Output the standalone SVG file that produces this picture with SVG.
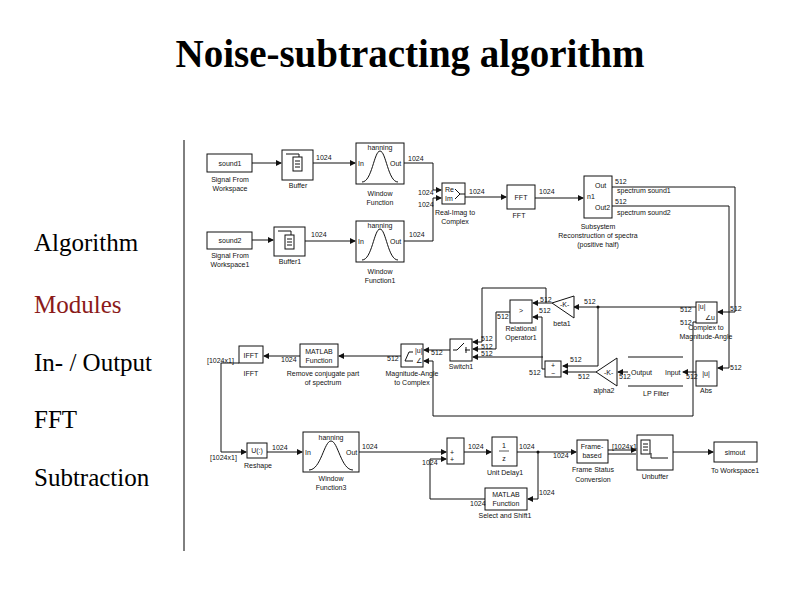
<svg xmlns="http://www.w3.org/2000/svg" width="794" height="595" viewBox="0 0 794 595">
<style>
.t{font-family:"Liberation Serif",serif}
.s{font-family:"Liberation Sans",Arial,sans-serif;font-size:7px;fill:#111}
.m{text-anchor:middle}
.b{fill:#fff;stroke:#111;stroke-width:1}
.w{fill:none;stroke:#111;stroke-width:1}
.c path,.c polyline,.c line{fill:none;stroke:#111;stroke-width:1}
</style>
<defs>
<marker id="a" markerWidth="6" markerHeight="6" refX="5" refY="3" orient="auto" markerUnits="userSpaceOnUse"><path d="M0,0 L6,3 L0,6 z" fill="#111"/></marker>
</defs>
<rect width="794" height="595" fill="#fff"/>
<text class="t" x="410" y="67" font-size="39" font-weight="bold" text-anchor="middle">Noise-subtracting algorithm</text>
<line x1="184" y1="140" x2="184" y2="551" stroke="#000" stroke-width="1"/>
<g class="t" font-size="25">
<text x="34" y="251">Algorithm</text>
<text x="34" y="313" fill="#8b1a1a">Modules</text>
<text x="34" y="371">In- / Output</text>
<text x="34" y="428">FFT</text>
<text x="34" y="486">Subtraction</text>
</g>

<g class="c">
<polyline points="252,163 281,163" marker-end="url(#a)"/>
<polyline points="313,163 355,163" marker-end="url(#a)"/>
<polyline points="404,163 433,163 433,190 441,190" marker-end="url(#a)"/>
<polyline points="252,240 273,240" marker-end="url(#a)"/>
<polyline points="305,241 355,241" marker-end="url(#a)"/>
<polyline points="404,241 433,241 433,198 441,198" marker-end="url(#a)"/>
<polyline points="465,197 506,197" marker-end="url(#a)"/>
<polyline points="535,198 583,198" marker-end="url(#a)"/>
<polyline points="612,187 735,187 735,312 718,312" marker-end="url(#a)"/>
<polyline points="612,206 729,206 729,368 718,368" marker-end="url(#a)"/>
<polyline points="696,307 574,307" marker-end="url(#a)"/>
<polyline points="598,307 598,366 563,366" marker-end="url(#a)"/>
<polyline points="552,303 533,303" marker-end="url(#a)"/>
<polyline points="546,303 546,288 482,288 482,342 473,342" marker-end="url(#a)"/>
<polyline points="510,312 496,312 496,349 473,349" marker-end="url(#a)"/>
<polyline points="545,369 542,369 542,317 533,317" marker-end="url(#a)"/>
<polyline points="543,357 473,357" marker-end="url(#a)"/>
<polyline points="596,372 563,372" marker-end="url(#a)"/>
<polyline points="628,372 618,372" marker-end="url(#a)"/>
<polyline points="696,372 683,372" marker-end="url(#a)"/>
<polyline points="696,322 693,322 693,416 433,416 433,361 424,361" marker-end="url(#a)"/>
<polyline points="450,350 424,350" marker-end="url(#a)"/>
<polyline points="401,356 339,356" marker-end="url(#a)"/>
<polyline points="300,356 264,356" marker-end="url(#a)"/>
<polyline points="239,363 221,363 221,452 246,452" marker-end="url(#a)"/>
<polyline points="267,452 302,452" marker-end="url(#a)"/>
<polyline points="359,452 446,452" marker-end="url(#a)"/>
<polyline points="485,499 430,499 430,459 446,459" marker-end="url(#a)"/>
<polyline points="464,452 491,452" marker-end="url(#a)"/>
<polyline points="517,452 576,452" marker-end="url(#a)"/>
<polyline points="538,452 538,499 528,499" marker-end="url(#a)"/>
<polyline points="608,450 636,450" marker-end="url(#a)"/>
<polyline points="608,454 636,454"/>
<polyline points="673,452 713,452" marker-end="url(#a)"/>
<circle cx="538" cy="452" r="1.5" fill="#111"/>
<circle cx="598" cy="307" r="1.5" fill="#111"/>
</g>

<g id="sound1"><rect class="b" x="207" y="154" width="45" height="18"/><text class="s m" x="230" y="166">sound1</text><text class="s m" x="230" y="182">Signal From</text><text class="s m" x="230" y="191">Workspace</text></g>
<g id="buffer"><rect class="b" x="282" y="150" width="31" height="30"/><rect class="w" x="293" y="157" width="9" height="14"/><path class="w" d="M286,154 H299 V157 M295,161 H300 M295,164 H300 M295,167 H300"/><text class="s m" x="298" y="188">Buffer</text><text class="s" x="316" y="160">1024</text></g>
<g id="win"><rect class="b" x="356" y="143" width="48" height="41"/><path class="w" d="M362,182 C372,182 374,151 380,151 C386,151 388,182 398,182"/><text class="s m" x="380" y="150">hanning</text><text class="s" x="358" y="166">In</text><text class="s" x="390" y="166">Out</text><text class="s m" x="380" y="196">Window</text><text class="s m" x="380" y="205">Function</text><text class="s" x="408" y="161">1024</text></g>
<g id="sound2"><rect class="b" x="207" y="232" width="45" height="17"/><text class="s m" x="230" y="243">sound2</text><text class="s m" x="230" y="258">Signal From</text><text class="s m" x="230" y="267">Workspace1</text></g>
<g id="buffer1"><rect class="b" x="274" y="227" width="31" height="29"/><rect class="w" x="285" y="235" width="9" height="14"/><path class="w" d="M278,231 H291 V235 M287,239 H292 M287,242 H292 M287,245 H292"/><text class="s m" x="290" y="264">Buffer1</text><text class="s" x="311" y="237">1024</text></g>
<g id="win1"><rect class="b" x="356" y="221" width="48" height="41"/><path class="w" d="M362,260 C372,260 374,229 380,229 C386,229 388,260 398,260"/><text class="s m" x="380" y="228">hanning</text><text class="s" x="358" y="244">In</text><text class="s" x="390" y="244">Out</text><text class="s m" x="380" y="274">Window</text><text class="s m" x="380" y="283">Function1</text><text class="s" x="409" y="237">1024</text></g>
<g id="reim"><rect class="b" x="442" y="183" width="23" height="21"/><text class="s" x="445" y="192">Re</text><text class="s" x="445" y="201">Im</text><path class="w" d="M455,189 L460,194 L455,199 M460,194 H465"/><text class="s" x="418" y="195">1024</text><text class="s" x="418" y="207">1024</text><text class="s m" x="455" y="215">Real-Imag to</text><text class="s m" x="455" y="224">Complex</text><text class="s" x="469" y="194">1024</text></g>
<g id="fft"><rect class="b" x="507" y="185" width="28" height="24"/><text class="s m" x="521" y="200">FFT</text><text class="s m" x="519" y="218">FFT</text><text class="s" x="539" y="194">1024</text></g>
<g id="subsys"><rect class="b" x="584" y="176" width="28" height="42"/><text class="s" x="595" y="188">Out</text><text class="s" x="587" y="199">n1</text><text class="s" x="595" y="210">Out2</text><text class="s m" x="598" y="229">Subsystem</text><text class="s m" x="598" y="238">Reconstruction of spectra</text><text class="s m" x="598" y="247">(positive half)</text><text class="s" x="615" y="184">512</text><text class="s" x="617" y="193">spectrum sound1</text><text class="s" x="615" y="204">512</text><text class="s" x="617" y="215">spectrum sound2</text></g>
<g id="c2ma"><rect class="b" x="696" y="302" width="21" height="21"/><text class="s" x="698" y="309">|u|</text><text class="s" x="705" y="320">∠u</text><text class="s" x="680" y="312">512</text><text class="s" x="680" y="325">512</text><text class="s" x="730" y="311">512</text><text class="s m" x="706" y="330">Complex to</text><text class="s m" x="706" y="339">Magnitude-Angle</text></g>
<g id="abs"><rect class="b" x="696" y="361" width="21" height="25"/><text class="s m" x="706" y="376">|u|</text><text class="s m" x="706" y="393">Abs</text><text class="s" x="730" y="370">512</text><text class="s" x="686" y="379">512</text></g>
<g id="lpf"><path class="w" d="M628,357 H683 M628,386 H683"/><text class="s" x="631" y="375">Output</text><text class="s" x="665" y="375">Input</text><text class="s m" x="656" y="396">LP Filter</text><text class="s" x="619" y="379">512</text></g>
<g id="alpha2"><path class="b" d="M617,358 L596,372 L617,386 z"/><text class="s" x="604" y="375">-K-</text><text class="s m" x="604" y="393">alpha2</text><text class="s" x="578" y="379">512</text></g>
<g id="sum1"><rect class="b" x="545" y="361" width="16" height="16"/><text class="s" x="551" y="368">+</text><text class="s" x="551" y="376">−</text><text class="s" x="529" y="375">512</text><text class="s" x="570" y="362">512</text></g>
<g id="beta1"><path class="b" d="M574,296 L552,303 L574,318 z"/><text class="s" x="560" y="307">-K-</text><text class="s m" x="562" y="326">beta1</text><text class="s" x="584" y="304">512</text></g>
<g id="relop"><rect class="b" x="510" y="300" width="22" height="23"/><text class="s m" x="521" y="313">&gt;</text><text class="s" x="540" y="302">512</text><text class="s" x="539" y="313">512</text><text class="s" x="497" y="319">512</text><text class="s m" x="521" y="331">Relational</text><text class="s m" x="521" y="340">Operator1</text></g>
<g id="switch1"><rect class="b" x="450" y="339" width="22" height="22"/><path class="w" d="M453,350 H457 L464,343 M465,350 H470 M466,347 V353"/><text class="s" x="481" y="341">512</text><text class="s" x="481" y="349">512</text><text class="s" x="481" y="356">512</text><text class="s m" x="461" y="369">Switch1</text><text class="s" x="431" y="355">512</text></g>
<g id="ma2c"><rect class="b" x="401" y="344" width="22" height="23"/><path class="w" d="M405,361 L409,352 H413 M405,361 H413"/><text class="s" x="415" y="353">|u|</text><text class="s" x="416" y="363">∠</text><text class="s" x="387" y="361">512</text><text class="s m" x="412" y="376">Magnitude-Angle</text><text class="s m" x="412" y="385">to Complex</text></g>
<g id="matlab1"><rect class="b" x="300" y="344" width="38" height="23"/><text class="s m" x="319" y="354">MATLAB</text><text class="s m" x="319" y="363">Function</text><text class="s" x="281" y="362">1024</text><text class="s m" x="323" y="376">Remove conjugate part</text><text class="s m" x="323" y="385">of spectrum</text></g>
<g id="ifft"><rect class="b" x="239" y="346" width="24" height="17"/><text class="s m" x="251" y="358">IFFT</text><text class="s m" x="251" y="376">IFFT</text><text class="s" x="207" y="363">[1024x1]</text></g>
<g id="reshape"><rect class="b" x="247" y="443" width="20" height="15"/><text class="s m" x="257" y="453">U(:)</text><text class="s m" x="258" y="468">Reshape</text><text class="s" x="210" y="460">[1024x1]</text><text class="s" x="272" y="450">1024</text></g>
<g id="win3"><rect class="b" x="303" y="432" width="56" height="40"/><path class="w" d="M309,470 C321,470 324,441 331,441 C338,441 341,470 353,470"/><text class="s m" x="331" y="440">hanning</text><text class="s" x="305" y="455">In</text><text class="s" x="346" y="455">Out</text><text class="s m" x="331" y="481">Window</text><text class="s m" x="331" y="490">Function3</text><text class="s" x="362" y="449">1024</text></g>
<g id="sum2"><rect class="b" x="447" y="438" width="17" height="26"/><text class="s" x="450" y="455">+</text><text class="s" x="450" y="462">+</text><text class="s" x="422" y="465">1024</text><text class="s" x="468" y="449">1024</text></g>
<g id="delay"><rect class="b" x="492" y="437" width="25" height="29"/><text class="s m" x="504" y="448">1</text><line x1="499" y1="451" x2="509" y2="451" stroke="#111" stroke-width="0.7"/><text class="s m" x="504" y="461">z</text><text class="s m" x="505" y="475">Unit Delay1</text><text class="s" x="519" y="449">1024</text></g>
<g id="frame"><rect class="b" x="577" y="440" width="31" height="23"/><text class="s m" x="592" y="449">Frame-</text><text class="s m" x="592" y="458">based</text><text class="s" x="553" y="458">1024</text><text class="s m" x="593" y="472">Frame Status</text><text class="s m" x="593" y="482">Conversion</text><text class="s" x="612" y="449">[1024x1]</text></g>
<g id="unbuf"><rect class="b" x="637" y="435" width="36" height="35"/><rect class="w" x="641" y="440" width="9" height="14"/><path class="w" d="M643,444 H648 M643,447 H648 M643,450 H648 M651,453 V458 H668"/><text class="s m" x="655" y="479">Unbuffer</text></g>
<g id="simout"><rect class="b" x="714" y="442" width="43" height="20"/><text class="s m" x="735" y="455">simout</text><text class="s m" x="735" y="473">To Workspace1</text></g>
<g id="select"><rect class="b" x="485" y="488" width="42" height="22"/><text class="s m" x="506" y="497">MATLAB</text><text class="s m" x="506" y="506">Function</text><text class="s" x="539" y="495">1024</text><text class="s" x="470" y="506">1024</text><text class="s m" x="505" y="518">Select and Shift1</text></g>
</svg>
